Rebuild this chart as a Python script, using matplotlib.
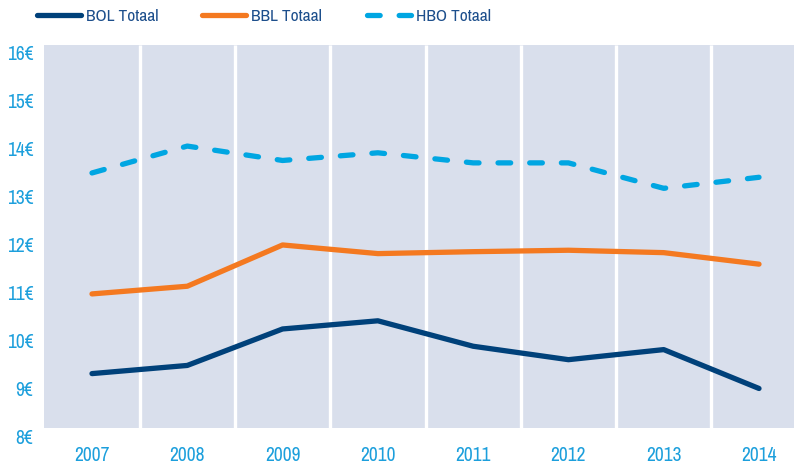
import matplotlib
matplotlib.use("Agg")
import matplotlib.pyplot as plt
from matplotlib.patches import Rectangle
from matplotlib import font_manager
import matplotlib.patheffects as pe

years = ["2007", "2008", "2009", "2010", "2011", "2012", "2013", "2014"]
bol = [9.30, 9.47, 10.23, 10.40, 9.87, 9.59, 9.80, 8.99]
bbl = [10.96, 11.12, 11.98, 11.80, 11.84, 11.87, 11.82, 11.58]
hbo = [13.48, 14.04, 13.74, 13.90, 13.69, 13.69, 13.16, 13.39]
yticks = [8, 9, 10, 11, 12, 13, 14, 15, 16]
ytick_labels = ["8€", "9€", "10€", "11€", "12€", "13€", "14€", "15€", "16€"]


def _weight(f):
    w = f.weight
    if isinstance(w, str):
        w = font_manager.weight_dict.get(w, 400)
    return int(w)


# choose a condensed, regular-ish weight face if one is installed
cands = []
for f in font_manager.fontManager.ttflist:
    st = str(f.stretch).lower()
    nm = f.name.lower()
    is_cond = ('narrow' in nm or 'condensed' in nm or 'condensed' in st or st in ('500', '300', '200', '100'))
    if is_cond and f.style == 'normal':
        cands.append((abs(_weight(f) - 420), f.name, f))
cands.sort(key=lambda t: (t[0], t[1]))
effects = []
if cands:
    cond = cands[0][2]
    fp_kw = dict(fname=cond.fname)
    condensed = True
    if _weight(cond) < 400:
        effects = [pe.withStroke(linewidth=0.7, foreground='#1c9fdc')]
else:
    fp_kw = dict(family=['Lato', 'DejaVu Sans'])
    condensed = False
plt.rcParams['font.family'] = ['Lato', 'DejaVu Sans']

W, H = 794, 466
fig = plt.figure(figsize=(W / 100, H / 100), dpi=100)

x_left, x_right = 44.35, 806.65
y_bot, y_top = 436, 45
ax = fig.add_axes([x_left / W, (H - y_bot) / H, (x_right - x_left) / W, (y_bot - y_top) / H])
ax.set_xlim(-0.5, 7.5)
ymin = 8.0
ymax = 16 + (52 - 45) / 48.0
ax.set_ylim(ymin, ymax)
ax.patch.set_visible(False)
for s in ax.spines.values():
    s.set_visible(False)

bg_bottom = 8 + (436 - 428) / 48.0
bg = '#d9dfec'
ax.add_patch(Rectangle((-0.5, bg_bottom), 8, ymax - bg_bottom, facecolor=bg, edgecolor='none', zorder=0))
x = list(range(len(years)))
for i in range(len(years) - 1):
    ax.vlines(i + 0.5, bg_bottom, ymax, colors='white', linewidth=2.4, zorder=1)

navy = '#00417a'
orange = '#f47920'
cyan = '#00a6e2'
lw = 3.8
l1, = ax.plot(x, bol, color=navy, lw=lw, solid_capstyle='round', solid_joinstyle='round', zorder=3, label='BOL Totaal')
l2, = ax.plot(x, bbl, color=orange, lw=lw, solid_capstyle='round', solid_joinstyle='round', zorder=3, label='BBL Totaal')
l3, = ax.plot(x, hbo, color=cyan, lw=lw, dashes=(2.4, 3.6), dash_capstyle='round', zorder=3, label='HBO Totaal')

tick_size = 14 if condensed else 11.5
leg_size = 12.5 if condensed else 10.5
tick_color = '#1c9fdc'
ax.set_xticks(x)
ax.set_xticklabels(years)
ax.set_yticks(yticks)
ax.set_yticklabels(ytick_labels)
ax.tick_params(axis='both', length=0, labelcolor=tick_color)
ax.tick_params(axis='x', pad=7)
ax.tick_params(axis='y', pad=8)
for t in ax.get_xticklabels() + ax.get_yticklabels():
    t.set_fontproperties(font_manager.FontProperties(size=tick_size, **fp_kw))
    if effects:
        t.set_path_effects(effects)

text_color = '#1d4f8c'
leg_effects = [pe.withStroke(linewidth=0.7, foreground=text_color)] if effects else []
legend_pos = [(37 / W, (H - 16) / H), (202 / W, (H - 16) / H), (367 / W, (H - 16) / H)]
for h, pos in zip([l1, l2, l3], legend_pos):
    leg = fig.legend(handles=[h], loc='center left', bbox_to_anchor=pos, frameon=False,
                     prop=font_manager.FontProperties(size=leg_size, **fp_kw),
                     handlelength=2.55, handletextpad=0.25, borderpad=0, borderaxespad=0)
    for t in leg.get_texts():
        t.set_color(text_color)
        if leg_effects:
            t.set_path_effects(leg_effects)

fig.savefig('out.png', dpi=100)
